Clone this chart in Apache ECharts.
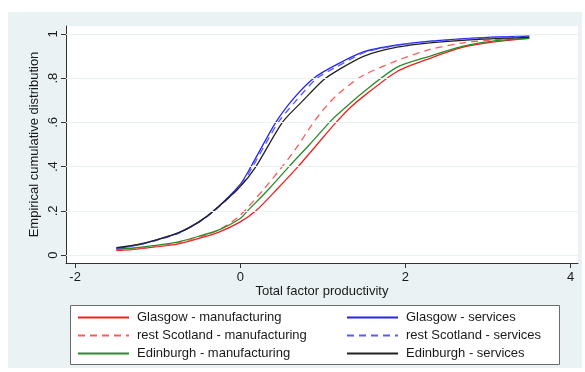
<!DOCTYPE html>
<html>
<head>
<meta charset="utf-8">
<script src="https://cdn.jsdelivr.net/npm/echarts@6/dist/echarts.min.js"></script>
<style>
  html, body { margin: 0; padding: 0; background: #ffffff; }
  #chart { width: 585px; height: 372px; }
</style>
</head>
<body>
<div id="chart"></div>
<script>
// Empirical CDFs of total factor productivity, [tfp, share] pairs
const glasgowManufacturing = [
  [-1.5, 0.02], [-1.25, 0.027], [-1.0, 0.038], [-0.75, 0.05], [-0.5, 0.075],
  [-0.25, 0.105], [0.0, 0.15], [0.19, 0.20], [0.45, 0.30], [0.7, 0.40],
  [0.93, 0.50], [1.16, 0.60], [1.34, 0.67], [1.5, 0.72], [1.9, 0.83],
  [2.3, 0.89], [2.7, 0.94], [3.1, 0.965], [3.5, 0.98]
];
const restScotlandManufacturing = [
  [-1.5, 0.025], [-1.25, 0.03], [-1.0, 0.04], [-0.75, 0.055], [-0.5, 0.08],
  [-0.25, 0.115], [0.0, 0.18], [0.29, 0.30], [0.53, 0.41], [0.69, 0.49],
  [0.85, 0.58], [1.0, 0.655], [1.16, 0.72], [1.34, 0.775], [1.5, 0.815],
  [1.9, 0.88], [2.3, 0.93], [2.7, 0.96], [3.1, 0.975], [3.5, 0.985]
];
const edinburghManufacturing = [
  [-1.5, 0.027], [-1.25, 0.034], [-1.0, 0.045], [-0.75, 0.06], [-0.5, 0.085],
  [-0.25, 0.115], [0.0, 0.165], [0.09, 0.20], [0.35, 0.30], [0.59, 0.40],
  [0.84, 0.50], [1.08, 0.60], [1.16, 0.63], [1.5, 0.74], [1.9, 0.85],
  [2.3, 0.90], [2.7, 0.945], [3.1, 0.97], [3.5, 0.98]
];
const glasgowServices = [
  [-1.5, 0.03], [-1.25, 0.045], [-1.0, 0.07], [-0.75, 0.10], [-0.5, 0.15],
  [-0.32, 0.20], [0.0, 0.32], [0.13, 0.40], [0.43, 0.60], [0.65, 0.71],
  [0.89, 0.80], [1.16, 0.86], [1.5, 0.92], [1.9, 0.95], [2.3, 0.968],
  [3.0, 0.985], [3.5, 0.99]
];
const restScotlandServices = [
  [-1.5, 0.03], [-1.25, 0.045], [-1.0, 0.068], [-0.75, 0.098], [-0.5, 0.148],
  [-0.32, 0.198], [0.0, 0.31], [0.15, 0.40], [0.46, 0.60], [0.68, 0.70],
  [0.93, 0.80], [1.16, 0.85], [1.5, 0.915], [1.9, 0.948], [2.3, 0.966],
  [3.0, 0.983], [3.5, 0.99]
];
const edinburghServices = [
  [-1.5, 0.033], [-1.25, 0.047], [-1.0, 0.07], [-0.75, 0.10], [-0.5, 0.15],
  [-0.32, 0.20], [0.0, 0.31], [0.19, 0.40], [0.51, 0.60], [0.75, 0.695],
  [1.0, 0.79], [1.2, 0.84], [1.5, 0.90], [1.9, 0.94], [2.3, 0.96],
  [3.0, 0.978], [3.5, 0.985]
];

const xTicks = [-2, 0, 2, 4];
const yTicks = [0, 0.2, 0.4, 0.6, 0.8, 1];

const fontFamily = '"Liberation Sans", Arial, sans-serif';
const textColor = '#1a1a1a';
const gridColor = '#eaf2f3';

function yTickLabel(v) {
  if (v === 0) return '0';
  if (v === 1) return '1';
  return String(v).replace(/^0/, '');
}

function lineSeries(name, data, color, dashed, z) {
  return {
    name: name,
    type: 'line',
    data: data,
    smooth: 0.25,
    symbol: 'none',
    showSymbol: false,
    z: z,
    lineStyle: { color: color, width: 1.3, type: dashed ? [7, 5] : 'solid' },
    itemStyle: { color: color }
  };
}

const chart = echarts.init(document.getElementById('chart'), null, { renderer: 'canvas' });

const legendCommon = {
  orient: 'vertical',
  top: 311,
  itemWidth: 51,
  itemHeight: 13,
  itemGap: 5,
  selectedMode: false,
  itemStyle: { opacity: 0 },
  textStyle: { fontFamily: fontFamily, fontSize: 13, color: textColor, padding: [0, 0, 0, 3] },
  padding: 0
};

chart.setOption({
  animation: false,
  backgroundColor: '#ffffff',
  graphic: [
    {
      type: 'rect', z: -10, silent: true,
      shape: { x: 8, y: 12, width: 574, height: 356 },
      style: { fill: gridColor }
    },
    {
      type: 'rect', z: -5, silent: true,
      shape: { x: 70.5, y: 305.5, width: 489, height: 59 },
      style: { fill: '#ffffff', stroke: '#6b6b6b', lineWidth: 1 }
    }
  ],
  grid: {
    left: 66, top: 26, right: 7, bottom: 109,
    show: true, backgroundColor: '#ffffff', borderWidth: 0
  },
  legend: [
    Object.assign({}, legendCommon, {
      left: 77,
      data: ['Glasgow - manufacturing', 'rest Scotland - manufacturing', 'Edinburgh - manufacturing']
    }),
    Object.assign({}, legendCommon, {
      left: 346,
      data: ['Glasgow - services', 'rest Scotland - services', 'Edinburgh - services']
    })
  ],
  xAxis: {
    type: 'value',
    min: -2.11,
    max: 4.09,
    name: 'Total factor productivity',
    nameLocation: 'middle',
    nameGap: 22,
    nameMoveOverlap: false,
    nameTextStyle: { fontFamily: fontFamily, fontSize: 13, color: textColor },
    axisLine: { show: true, onZero: false, lineStyle: { color: '#333', width: 1 } },
    axisTick: { show: true, length: 5, customValues: xTicks, lineStyle: { color: '#333' } },
    axisLabel: {
      customValues: xTicks, margin: 8,
      fontFamily: fontFamily, fontSize: 13, color: textColor
    },
    splitLine: { show: false }
  },
  yAxis: {
    type: 'value',
    min: -0.036,
    max: 1.036,
    name: 'Empirical cumulative distribution',
    nameLocation: 'middle',
    nameGap: 25,
    nameMoveOverlap: false,
    nameRotate: 90,
    nameTextStyle: { fontFamily: fontFamily, fontSize: 13, color: textColor },
    axisLine: { show: true, onZero: false, lineStyle: { color: '#333', width: 1 } },
    axisTick: { show: true, length: 5, customValues: yTicks, lineStyle: { color: '#333' } },
    axisLabel: {
      customValues: yTicks, rotate: 90, margin: 6,
      fontFamily: fontFamily, fontSize: 13, color: textColor,
      formatter: yTickLabel
    },
    splitLine: { show: false }
  },
  series: [
    {
      type: 'line', data: [], silent: true, z: 1,
      markLine: {
        silent: true, symbol: 'none', animation: false,
        label: { show: false },
        lineStyle: { color: gridColor, width: 1.2, type: 'solid' },
        data: yTicks.map(function (v) { return { yAxis: v }; })
      }
    },
    lineSeries('Glasgow - manufacturing', glasgowManufacturing, '#f02020', false, 3),
    lineSeries('rest Scotland - manufacturing', restScotlandManufacturing, '#ff5a5a', true, 3),
    lineSeries('Edinburgh - manufacturing', edinburghManufacturing, '#2a8a2a', false, 3),
    lineSeries('Glasgow - services', glasgowServices, '#2525ee', false, 3),
    lineSeries('rest Scotland - services', restScotlandServices, '#5a5aff', true, 3),
    lineSeries('Edinburgh - services', edinburghServices, '#222222', false, 3)
  ]
});
</script>
</body>
</html>
